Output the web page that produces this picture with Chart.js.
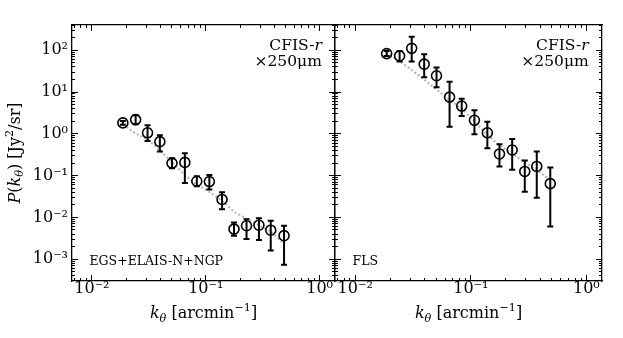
<!DOCTYPE html>
<html><head><meta charset="utf-8">
<script src="https://cdn.jsdelivr.net/npm/chart.js@4.4.1/dist/chart.umd.min.js"></script>
<style>
html,body{margin:0;padding:0;background:#fff;}
#wrap{position:relative;width:623px;height:338px;background:#fff;}
canvas{position:absolute;left:0;top:0;}
</style></head><body>
<div id="wrap"><canvas id="c1" width="623" height="338"></canvas><canvas id="c2" width="623" height="338"></canvas></div>
<script>
// ---- data ----
const kBins = [0.0187, 0.0242, 0.0308, 0.0395, 0.0505, 0.0655, 0.0834, 0.1075, 0.139, 0.177, 0.228, 0.293, 0.372, 0.487];

const leftP     = [1.83, 2.19, 1.06, 0.65, 0.199, 0.207, 0.0733, 0.072, 0.0269, 0.00523, 0.0063, 0.0065, 0.00494, 0.00365];
const leftLo    = [1.65, 1.70, 0.67, 0.377, 0.151, 0.0668, 0.0557, 0.0463, 0.0156, 0.00365, 0.00303, 0.00286, 0.00161, 0.000733];
const leftHi    = [2.04, 2.80, 1.61, 0.93, 0.261, 0.344, 0.0962, 0.103, 0.0402, 0.00753, 0.00902, 0.00953, 0.00826, 0.0063];
const leftModel = [1.66, 1.02, 0.74, 0.40, 0.21, 0.103, 0.060, 0.041, 0.025, 0.0137, 0.0094, 0.0064, 0.0046, 0.0023];

const rightP     = [83.5, 73.3, 111.5, 46.6, 24.6, 7.57, 4.63, 2.11, 1.06, 0.330, 0.411, 0.126, 0.166, 0.0643];
const rightLo    = [72.6, 54.0, 54.0, 22.5, 13.1, 1.47, 2.68, 0.98, 0.45, 0.166, 0.138, 0.0409, 0.0295, 0.00605];
const rightHi    = [96.0, 96.3, 211, 80.4, 38.9, 17.7, 6.9, 3.65, 1.94, 0.561, 0.748, 0.231, 0.377, 0.157];
const rightModel = [85, 54.8, 33.6, 20.0, 11.5, 6.5, 4.0, 2.02, 0.93, 0.54, 0.334, 0.21, 0.136, 0.079];

const xMajorTicks  = [0.01, 0.1, 1];
const xTickLabels  = ['10\u207B\u00B2', '10\u207B\u00B9', '10\u2070'];
const yMajorTicks  = [1e-3, 1e-2, 1e-1, 1, 10, 100];
const yTickLabels  = ['10\u207B\u00B3', '10\u207B\u00B2', '10\u207B\u00B9', '10\u2070', '10\u00B9', '10\u00B2'];
const leftFieldLabel  = 'EGS+ELAIS-N+NGP';
const rightFieldLabel = 'FLS';

// ---- axis ranges ----
const X_MIN = Math.pow(10, -2.175), X_MAX = Math.pow(10, 0.135);
const Y_MIN = Math.pow(10, -3.475), Y_MAX = Math.pow(10, 2.606);
const FONT = "'DejaVu Serif', serif";

function minorTicks(min, max) {
  const out = [];
  for (let e = Math.floor(Math.log10(min)); e <= Math.ceil(Math.log10(max)); e++) {
    for (let m = 2; m <= 9; m++) { const v = m * Math.pow(10, e); if (v >= min && v <= max) out.push(v); }
  }
  return out;
}
const xMinorTicks = minorTicks(X_MIN, X_MAX);
const yMinorTicks = minorTicks(Y_MIN, Y_MAX);

function axisCfg(dir, position, values, labels, size, weight, tickLen, pad) {
  const horiz = dir === 'x';
  return {
    type: 'logarithmic', axis: dir, position,
    min: horiz ? X_MIN : Y_MIN, max: horiz ? X_MAX : Y_MAX,
    weight, offset: false,
    grid: { display: true, drawOnChartArea: false, drawTicks: true, tickLength: -tickLen, tickColor: '#000', tickWidth: 1, offset: false },
    border: { display: weight === 1, color: '#000', width: 1.3 },
    ticks: {
      display: !!labels, autoSkip: false, maxRotation: 0, minRotation: 0,
      font: { family: FONT, size: 16 }, color: '#000', padding: pad || 0,
      callback: (v, i) => labels ? labels[i] : ''
    },
    afterBuildTicks: s => { s.ticks = values.map(v => ({ value: v })); },
    afterFit: s => { if (horiz) s.height = size; else s.width = size; }
  };
}

function segFont(s, size) { const sz = (s.sub || s.sup) ? size * 0.7 : size; return (s.it ? 'italic ' : '') + sz + 'px ' + FONT; }
function drawRich(ctx, segs, x, y, align, size) {
  let w = 0;
  for (const s of segs) { ctx.font = segFont(s, size); w += ctx.measureText(s.t).width; }
  let cx = align === 'center' ? x - w / 2 : align === 'right' ? x - w : x;
  ctx.textAlign = 'left'; ctx.textBaseline = 'alphabetic'; ctx.fillStyle = '#000';
  for (const s of segs) {
    ctx.font = segFont(s, size);
    const dy = s.sup ? -0.42 * size : s.sub ? 0.22 * size : 0;
    ctx.fillText(s.t, cx, y + dy);
    cx += ctx.measureText(s.t).width;
  }
}

const xTitle = [{t:'k', it:true}, {t:'\u03B8', it:true, sub:true}, {t:' [arcmin'}, {t:'\u22121', sup:true}, {t:']'}];
const yTitle = [{t:'P', it:true}, {t:'('}, {t:'k', it:true}, {t:'\u03B8', it:true, sub:true}, {t:') [Jy'}, {t:'2', sup:true}, {t:'/sr]'}];

function makeChart(id, P, lo, hi, model, fieldLabel, isLeft) {
  const leftW = isLeft ? 72 : 335;
  const rightW = isLeft ? 623 - 335 : 623 - 602;
  const scales = {
    x:      axisCfg('x', 'bottom', xMajorTicks, xTickLabels, 57, 1, 6, 4.4),
    xMin:   axisCfg('x', 'bottom', xMinorTicks, null, 0, 0, 3),
    xTop:   axisCfg('x', 'top', xMajorTicks, null, 0, 1, 6),
    xTopMin:axisCfg('x', 'top', xMinorTicks, null, 0, 0, 3),
    y:      axisCfg('y', 'left', yMajorTicks, isLeft ? yTickLabels : null, leftW, 1, 6, 10),
    yMin:   axisCfg('y', 'left', yMinorTicks, null, 0, 0, 3),
    yR:     axisCfg('y', 'right', yMajorTicks, null, rightW, 1, 6),
    yRMin:  axisCfg('y', 'right', yMinorTicks, null, 0, 0, 3)
  };
  const errPlugin = {
    id: 'errbars',
    afterDatasetDraw(chart, args) {
      if (args.index !== 1) return;
      const ctx = chart.ctx, xs = chart.scales.x, ys = chart.scales.y;
      ctx.save(); ctx.strokeStyle = '#000'; ctx.lineWidth = 2; ctx.lineCap = 'butt';
      for (let i = 0; i < kBins.length; i++) {
        const px = xs.getPixelForValue(kBins[i]);
        const y1 = ys.getPixelForValue(lo[i]), y2 = ys.getPixelForValue(hi[i]);
        ctx.beginPath(); ctx.moveTo(px, y1); ctx.lineTo(px, y2);
        ctx.moveTo(px - 3, y1); ctx.lineTo(px + 3, y1);
        ctx.moveTo(px - 3, y2); ctx.lineTo(px + 3, y2);
        ctx.stroke();
      }
      ctx.restore();
    }
  };
  const textPlugin = {
    id: 'texts',
    afterDraw(chart) {
      const ctx = chart.ctx, a = chart.chartArea;
      ctx.save();
      const rx = a.left + 0.95 * (a.right - a.left);
      drawRich(ctx, [{t:'CFIS-'}, {t:'r', it:true}], rx, 50, 'right', 15.5);
      drawRich(ctx, [{t:'\u00D7250\u03BCm'}], rx, 65.5, 'right', 15.5);
      drawRich(ctx, [{t:fieldLabel}], a.left + 17.5, 265, 'left', 12.5);
      drawRich(ctx, xTitle, (a.left + a.right) / 2, 318, 'center', 16);
      if (isLeft) {
        ctx.save(); ctx.translate(19.5, (a.top + a.bottom) / 2); ctx.rotate(-Math.PI / 2);
        drawRich(ctx, yTitle, 0, 0, 'center', 16);
        ctx.restore();
      }
      ctx.restore();
    }
  };
  return new Chart(document.getElementById(id), {
    type: 'scatter',
    data: {
      datasets: [
        { data: kBins.map((k, i) => ({ x: k, y: P[i] })), showLine: false,
          pointStyle: 'circle', pointRadius: 5, pointBorderWidth: 1.6,
          pointBorderColor: '#000', pointBackgroundColor: 'rgba(0,0,0,0)', xAxisID: 'x', yAxisID: 'y' },
        { data: kBins.map((k, i) => ({ x: k, y: model[i] })), showLine: true, pointRadius: 0,
          borderColor: '#b3b3b3', borderWidth: 2, borderDash: [2, 2.2], fill: false, tension: 0,
          xAxisID: 'x', yAxisID: 'y' }
      ]
    },
    options: {
      responsive: false, maintainAspectRatio: false, animation: false, devicePixelRatio: 1,
      layout: { padding: { top: 25, left: 0, right: 0, bottom: 0 } },
      plugins: { legend: { display: false }, tooltip: { enabled: false }, title: { display: false } },
      scales
    },
    plugins: [errPlugin, textPlugin]
  });
}

makeChart('c1', leftP, leftLo, leftHi, leftModel, leftFieldLabel, true);
makeChart('c2', rightP, rightLo, rightHi, rightModel, rightFieldLabel, false);
</script>
</body></html>
